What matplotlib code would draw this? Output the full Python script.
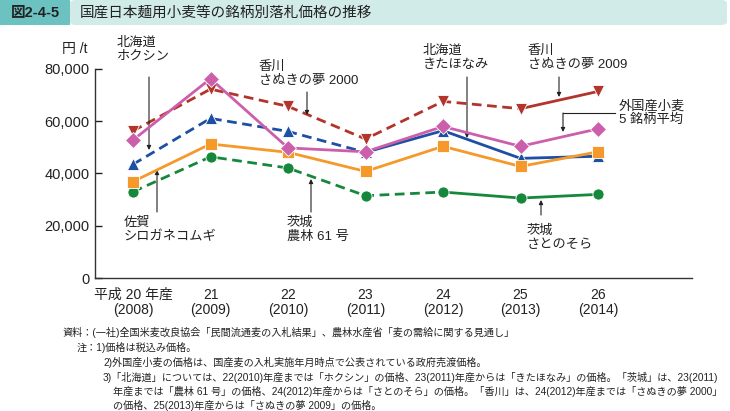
import matplotlib
matplotlib.use('Agg')
import matplotlib.pyplot as plt
from matplotlib.patches import Rectangle, FancyBboxPatch
from matplotlib.ticker import FuncFormatter

plt.rcParams['font.family'] = ['Liberation Sans', 'Noto Sans CJK JP', 'DejaVu Sans']

W, H = 730, 411

# 年産ラベル
x_labels = ['平成 20 年産\n(2008)', '21\n(2009)', '22\n(2010)', '23\n(2011)',
            '24\n(2012)', '25\n(2013)', '26\n(2014)']

# 銘柄別落札価格（円/t）
kagawa = [56300, 72300, 65700, 53200, 67600, 64800, 71400]     # 香川
hokkaido = [43500, 61100, 56100, 48100, 56400, 45800, 46600]   # 北海道
ibaraki = [33000, 46400, 42100, 31500, 32900, 30600, 32000]    # 茨城
saga = [36900, 51300, 48100, 40800, 50400, 42700, 48300]       # 佐賀 シロガネコムギ
gaikoku = [52800, 76300, 49800, 48300, 58000, 50400, 57100]    # 外国産小麦 5銘柄平均

# 破線から実線に変わる位置（銘柄切替）
kagawa_switch = 5
hokkaido_switch = 3
ibaraki_switch = 4

COL_RED = '#b2342a'
COL_BLUE = '#1d4fa3'
COL_GREEN = '#16883c'
COL_ORANGE = '#f4992a'
COL_PINK = '#cc5fab'


def px(x, y):
    """ピクセル座標を figure fraction に変換"""
    return (x / W, 1 - y / H)


fig = plt.figure(figsize=(W / 100, H / 100), dpi=100)

# タイトル帯
fig.patches.append(FancyBboxPatch(px(70, 25), 657 / W, 25 / H, boxstyle='round,pad=0,rounding_size=0.008',
                                  transform=fig.transFigure, facecolor='#d1ebe8', edgecolor='none'))
fig.patches.append(Rectangle(px(0, 25), 70 / W, 25 / H, transform=fig.transFigure,
                             facecolor='#6cc1c1', edgecolor='none'))
fig.text(*px(11, 13), '図2-4-5', fontsize=10.5, fontweight='bold', va='center', ha='left', color='#222')
fig.text(*px(80, 13), '国産日本麺用小麦等の銘柄別落札価格の推移', fontsize=10.5, va='center', ha='left',
         color='#222')

ax = fig.add_axes([95 / W, 1 - 278 / H, (692 - 95) / W, (278 - 69) / H])
xs = list(range(len(x_labels)))


def draw_series(vals, color, marker, ms, switch=None, z=2):
    if switch is None:
        ax.plot(xs, vals, color=color, lw=2, zorder=z)
    else:
        ax.plot(xs[:switch + 1], vals[:switch + 1], color=color, lw=2, dashes=(3.5, 2), zorder=z)
        ax.plot(xs[switch:], vals[switch:], color=color, lw=2, zorder=z)
    ax.plot(xs, vals, ls='none', marker=marker, ms=ms, color=color, mec='white', mew=0.6, zorder=z + 0.5)


draw_series(ibaraki, COL_GREEN, 'o', 8, ibaraki_switch, z=2)
draw_series(kagawa, COL_RED, 'v', 9, kagawa_switch, z=3)
draw_series(hokkaido, COL_BLUE, '^', 9, hokkaido_switch, z=4)
draw_series(saga, COL_ORANGE, 's', 8.5, None, z=5)
draw_series(gaikoku, COL_PINK, 'D', 8.5, None, z=6)

ax.set_xlim(-38 / 77.5, 6 + 94 / 77.5)
ax.set_ylim(0, 80000)
ax.set_yticks([0, 20000, 40000, 60000, 80000])
ax.yaxis.set_major_formatter(FuncFormatter(lambda v, p: f'{int(v):,}'))
ax.set_xticks(xs)
ax.set_xticklabels(x_labels, linespacing=1.15)
ax.tick_params(axis='x', length=0, pad=7, labelsize=10, colors='#222')
ax.tick_params(axis='y', direction='in', length=5, width=1, pad=4, labelsize=10.5, colors='#222')
for s in ['top', 'right']:
    ax.spines[s].set_visible(False)
for s in ['left', 'bottom']:
    ax.spines[s].set_color('#333')
    ax.spines[s].set_linewidth(1)

fig.text(*px(75, 49), '円 /t', fontsize=10, ha='center', va='center', color='#222')

# 注記ラベルと矢印
labels = [
    ('北海道\nホクシン', 117, 50),
    ('香川\nさぬきの夢 2000', 259, 74),
    ('北海道\nきたほなみ', 423, 58),
    ('香川\nさぬきの夢 2009', 528, 58),
    ('外国産小麦\n5 銘柄平均', 619, 113),
    ('佐賀\nシロガネコムギ', 124, 230),
    ('茨城\n農林 61 号', 287, 230),
    ('茨城\nさとのそら', 527, 238),
]
for txt, x, y in labels:
    fig.text(*px(x, y), txt, fontsize=9.5, ha='left', va='center', linespacing=1.2, color='#222')

arrows = [
    (149, 77, 150),
    (307, 92, 115),
    (467, 77, 138),
    (559, 77, 97),
    (563, 113, 132),
    (157, 212, 170),
    (311, 212, 179),
    (541, 215, 200),
]
for x, y0, y1 in arrows:
    ax.annotate('', xy=px(x, y1), xycoords='figure fraction', xytext=px(x, y0),
                textcoords='figure fraction',
                arrowprops=dict(arrowstyle='-|>', lw=0.8, color='#222', mutation_scale=6,
                                shrinkA=0, shrinkB=0))
fig.add_artist(plt.Line2D([563 / W, 615 / W], [1 - 113 / H, 1 - 113 / H], lw=0.8, color='#222',
                          transform=fig.transFigure))

# 資料・注
notes = [
    (62, 332, '資料：(一社)全国米麦改良協会「民間流通麦の入札結果」、農林水産省「麦の需給に関する見通し」'),
    (77, 347, '注：1)価格は税込み価格。'),
    (103, 362, '2)外国産小麦の価格は、国産麦の入札実施年月時点で公表されている政府売渡価格。'),
    (103, 377, '3)「北海道」については、22(2010)年産までは「ホクシン」の価格、23(2011)年産からは「きたほなみ」の価格。「茨城」は、23(2011)'),
    (113, 391, '年産までは「農林 61 号」の価格、24(2012)年産からは「さとのそら」の価格。「香川」は、24(2012)年産までは「さぬきの夢 2000」'),
    (113, 405, 'の価格、25(2013)年産からは「さぬきの夢 2009」の価格。'),
]
for x, y, t in notes:
    fig.text(*px(x, y), t, fontsize=7.3, ha='left', va='center', color='#222')

fig.savefig('out.png', dpi=100)
